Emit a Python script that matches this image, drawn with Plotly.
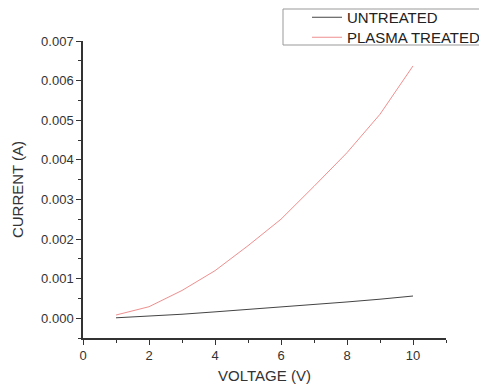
import plotly.graph_objects as go

voltage = [1, 2, 3, 4, 5, 6, 7, 8, 9, 10]
untreated = [0.00001, 0.00005, 0.00010, 0.00016, 0.00022, 0.00028, 0.00034, 0.00041, 0.00048, 0.00056]
plasma = [0.00008, 0.00029, 0.00070, 0.00120, 0.00183, 0.00250, 0.00333, 0.00418, 0.00515, 0.00637]

x_ticks = [0, 2, 4, 6, 8, 10]
y_ticks = [0.000, 0.001, 0.002, 0.003, 0.004, 0.005, 0.006, 0.007]

font = "Liberation Sans, Arial, sans-serif"
ink = "#333333"

# plot area in pixels
L, R, T, B = 83, 446, 41, 338
W, H = R - L, B - T

def py(p):
    return (B - p) / H

fig = go.Figure()
fig.add_trace(go.Scatter(x=voltage, y=untreated, mode="lines", name="UNTREATED",
                         line=dict(color="#444444", width=1), legend="legend"))
fig.add_trace(go.Scatter(x=voltage, y=plasma, mode="lines", name="PLASMA TREATED",
                         line=dict(color="#ef8f8f", width=1), legend="legend2"))

axis_common = dict(showgrid=False, zeroline=False, showline=True, linecolor=ink,
                   linewidth=1.5, ticks="outside", ticklen=5, tickwidth=1.2, tickcolor=ink,
                   tickfont=dict(family=font, size=13, color=ink))

# legend frame
fig.add_shape(type="rect", xref="paper", yref="paper",
              x0=(283 - L) / W, x1=(490 - L) / W,
              y0=py(45), y1=py(9),
              line=dict(color="#999999", width=1), fillcolor="white", layer="below")

leg_common = dict(x=(307 - L) / W, xanchor="left", yanchor="top",
                  borderwidth=0, bgcolor="rgba(0,0,0,0)",
                  font=dict(family=font, size=15, color="#222222"), itemwidth=30)

fig.update_layout(
    width=479, height=387,
    margin=dict(l=L, r=479 - R, t=T, b=387 - B, autoexpand=False),
    paper_bgcolor="white", plot_bgcolor="white",
    font=dict(family=font, color=ink),
    xaxis=dict(range=[0, 11], tickvals=x_ticks,
               minor=dict(dtick=1, ticks="outside", ticklen=3, tickcolor=ink),
               title=dict(text="VOLTAGE (V)", font=dict(family=font, size=15, color=ink), standoff=8),
               **axis_common),
    yaxis=dict(range=[-0.0005, 0.007], tickvals=y_ticks, tickformat=".3f",
               minor=dict(dtick=0.0005, ticks="outside", ticklen=3, tickcolor=ink),
               title=dict(text="CURRENT (A)", font=dict(family=font, size=15, color=ink), standoff=14),
               **axis_common),
    legend=dict(y=py(1), **leg_common),
    legend2=dict(y=py(21), **leg_common),
    showlegend=True,
)

fig.write_html("out.html")
